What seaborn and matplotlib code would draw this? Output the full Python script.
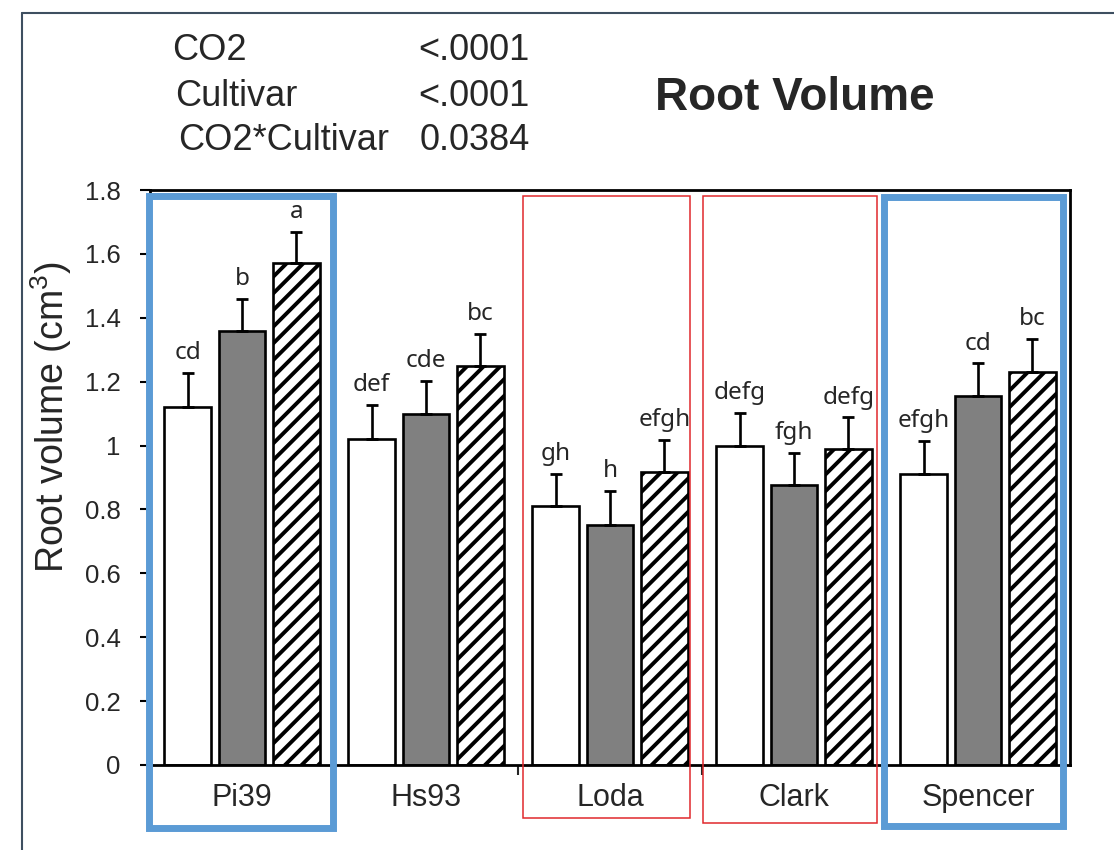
import matplotlib
matplotlib.use("Agg")
import matplotlib.pyplot as plt
from matplotlib.patches import Rectangle
from matplotlib.lines import Line2D
import seaborn as sns
import pandas as pd
import numpy as np

# ---------------- data ----------------
cultivars = ["Pi39", "Hs93", "Loda", "Clark", "Spencer"]
treatments = ["Treatment 1", "Treatment 2", "Treatment 3"]

values_t1 = [1.12, 1.02, 0.81, 1.00, 0.91]
values_t2 = [1.36, 1.10, 0.75, 0.875, 1.155]
values_t3 = [1.572, 1.248, 0.917, 0.988, 1.231]

err_t1 = [0.107, 0.106, 0.101, 0.103, 0.104]
err_t2 = [0.100, 0.103, 0.108, 0.101, 0.102]
err_t3 = [0.098, 0.102, 0.101, 0.100, 0.104]

letters_t1 = ["cd", "def", "gh", "defg", "efgh"]
letters_t2 = ["b", "cde", "h", "fgh", "cd"]
letters_t3 = ["a", "bc", "efgh", "defg", "bc"]

stats_terms = ["CO2", "Cultivar", "CO2*Cultivar"]
stats_pvalues = ["<.0001", "<.0001", "0.0384"]

y_ticks = [0, 0.2, 0.4, 0.6, 0.8, 1, 1.2, 1.4, 1.6, 1.8]
y_ticklabels = ["0", "0.2", "0.4", "0.6", "0.8", "1", "1.2", "1.4", "1.6", "1.8"]

# ---------------- style ----------------
sns.set_style("white")
plt.rcParams["font.family"] = ["Liberation Sans", "DejaVu Sans"]
plt.rcParams["mathtext.default"] = "regular"
plt.rcParams["hatch.color"] = "black"
plt.rcParams["hatch.linewidth"] = 2.8

df = pd.DataFrame({
    "cultivar": np.repeat([cultivars], 3, axis=0).ravel(),
    "treatment": np.repeat(treatments, len(cultivars)),
    "value": values_t1 + values_t2 + values_t3,
})

fig = plt.figure(figsize=(11.14, 8.5), dpi=100)
ax = fig.add_axes([150 / 1114, 1 - 765 / 850, 920 / 1114, 575 / 850])

sns.barplot(data=df, x="cultivar", y="value", hue="treatment",
            order=cultivars, hue_order=treatments,
            palette=["white", "#808080", "white"],
            edgecolor="black", linewidth=1.9, width=0.888, gap=0.14,
            errorbar=None, legend=False, ax=ax, zorder=2)

for bar in ax.containers[2]:
    bar.set_hatch("//")

all_errs = [err_t1, err_t2, err_t3]
all_letters = [letters_t1, letters_t2, letters_t3]
for cont, errs, lets in zip(ax.containers, all_errs, all_letters):
    xs = [b.get_x() + b.get_width() / 2 for b in cont]
    ys = [b.get_height() for b in cont]
    ax.errorbar(xs, ys, yerr=[np.zeros(len(errs)), errs], fmt="none",
                ecolor="black", elinewidth=1.9, capsize=4, capthick=2.0, zorder=3)
    for x, y, e, t in zip(xs, ys, errs, lets):
        ax.annotate(t, (x, y + e), xytext=(0, 10), textcoords="offset points",
                    ha="center", va="baseline", fontsize=17.5,
                    family=["Noto Sans", "DejaVu Sans"], color="#262626")

ax.set_xlim(-0.5, 4.5)
ax.set_ylim(0, 1.8)
ax.set_yticks(y_ticks)
ax.set_yticklabels(y_ticklabels)
ax.tick_params(axis="y", direction="out", length=7, width=1.5, pad=14,
               labelsize=18.5, left=True, colors="black")
ax.tick_params(axis="y", labelcolor="#262626")
ax.set_xticks(range(len(cultivars)))
ax.set_xticklabels(cultivars)
ax.tick_params(axis="x", which="major", length=0, pad=13, labelsize=22)
ax.set_xticks([1.5, 2.5], minor=True)
ax.tick_params(axis="x", which="minor", direction="out", length=7, width=1.5, bottom=True)
ax.set_xlabel("")
ax.set_ylabel("Root volume (cm$^3$)", fontsize=27)
ax.yaxis.set_label_coords(-0.083, 0.605)

for s in ax.spines.values():
    s.set_visible(True)
    s.set_color("black")
    s.set_linewidth(2)

# highlight boxes
blue = "#5B9BD5"
red = "#E0282C"
for (x0, x1, y0, y1, col, lw) in [
    (-0.505, 0.495, -0.197, 1.781, blue, 5),
    (3.489, 4.462, -0.191, 1.778, blue, 5),
    (1.527, 2.435, -0.166, 1.781, red, 1.1),
    (2.505, 3.451, -0.182, 1.781, red, 1.1),
]:
    ax.add_patch(Rectangle((x0, y0), x1 - x0, y1 - y0, fill=False,
                           edgecolor=col, linewidth=lw, clip_on=False, zorder=4))

# statistics text
rows_y = [50, 97, 141]
lefts = [172, 175, 178]
for term, p, yy, xl in zip(stats_terms, stats_pvalues, rows_y, lefts):
    fig.text(xl / 1114, 1 - yy / 850, term, fontsize=26, ha="left", va="center")
    fig.text(530 / 1114, 1 - yy / 850, p, fontsize=26, ha="right", va="center")

fig.text(795 / 1114, 1 - 98 / 850, "Root Volume", fontsize=33, fontweight="bold",
         ha="center", va="center")

# outer frame lines
frame_col = "#3E4F60"
fig.add_artist(Line2D([22 / 1114, 1.0], [1 - 13 / 850, 1 - 13 / 850],
                      color=frame_col, linewidth=1.5, transform=fig.transFigure))
fig.add_artist(Line2D([22 / 1114, 22 / 1114], [0, 1 - 13 / 850],
                      color=frame_col, linewidth=1.5, transform=fig.transFigure))

fig.savefig("out.png", dpi=100, facecolor="white")
